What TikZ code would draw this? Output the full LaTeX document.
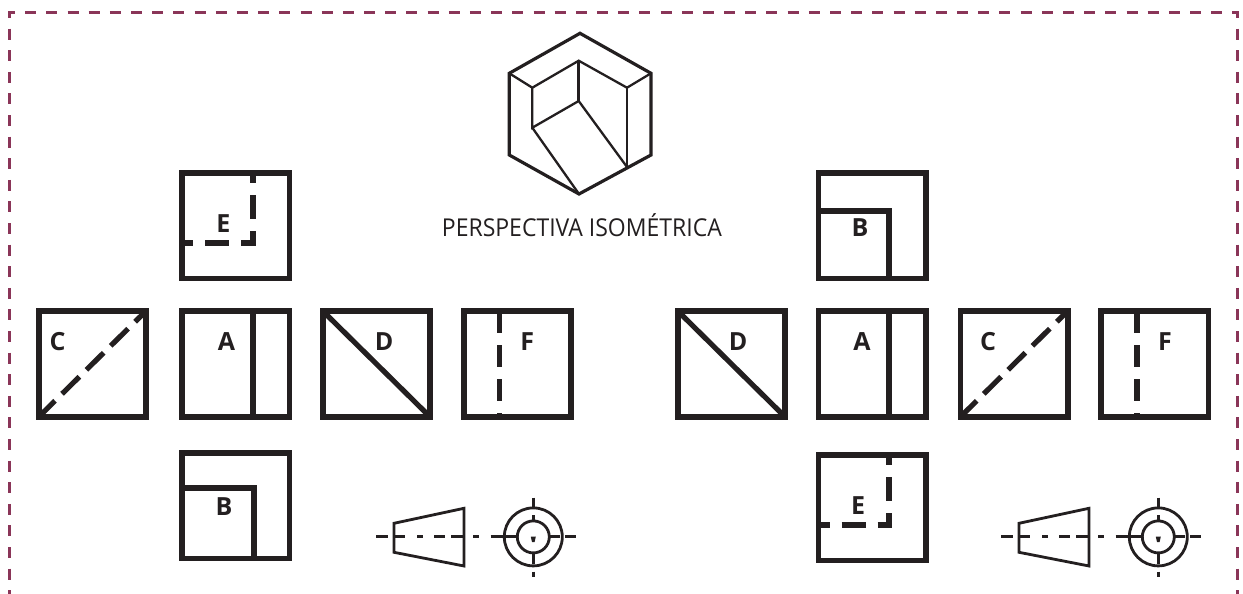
\documentclass[tikz,border=0pt]{standalone}
\usepackage{fontspec}
\setmainfont{Open Sans}
\definecolor{ink}{HTML}{231F20}
\definecolor{wine}{HTML}{8A3558}
\tikzset{
  x=1pt,y=-1pt,
  outline/.style={draw=ink,line width=5.7pt,line join=miter},
  innerline/.style={draw=ink,line width=5.2pt},
  stepdash/.style={draw=ink,line width=5.2pt,dash pattern=on 24pt off 12pt,dash phase=13pt},
  diagdash/.style={draw=ink,line width=5.2pt,dash pattern=on 24.3pt off 9.9pt,dash phase=1.5pt},
  vertdash/.style={draw=ink,line width=5.2pt,dash pattern=on 22.3pt off 11.7pt},
  letter/.style={inner sep=0pt,text=ink,font=\fontsize{25}{25}\selectfont\bfseries},
  caption/.style={inner sep=0pt,anchor=base,text=ink,font=\fontsize{24.6}{25}\selectfont},
  borderv/.style={draw=wine,line width=3pt,dash pattern=on 11pt off 10.6pt,dash phase=4.5pt},
  borderh/.style={draw=wine,line width=3pt,dash pattern=on 11pt off 10.18pt,dash phase=4pt},
  isoouter/.style={draw=ink,line width=3.2pt,line join=miter},
  isoinner/.style={draw=ink,line width=2.3pt},
  conepart/.style={draw=ink,line width=2.8pt},
  axispart/.style={draw=ink,line width=2.9pt},
}
\newcommand{\sqbox}[2]{\draw[outline] (#1,#2) rectangle ++(107.2,105.8);}
\newcommand{\cone}{%
  \draw[conepart,line join=miter] (394,523.3) -- (464,508.3) -- (464,566) -- (394,552.3) -- cycle;
  \draw[axispart] (376,536.9) -- (388,536.9);
  \draw[axispart] (394,536.9) -- (404.5,536.9);
  \draw[axispart] (417.3,536.9) -- (422.7,536.9);
  \draw[axispart] (434,536.9) -- (445,536.9);
  \draw[axispart] (451,536.9) -- (464,536.9);
  \draw[axispart] (473.3,536.9) -- (479.3,536.9);
  \draw[axispart] (490.7,536.9) -- (517.3,536.9);
  \draw[axispart] (549.3,536.9) -- (560,536.9);
  \draw[axispart] (565,536.9) -- (576,536.9);
  \draw[axispart] (533.3,497.7) -- (533.3,509.3);
  \draw[axispart] (533.3,515) -- (533.3,520.7);
  \draw[axispart] (533.3,552.7) -- (533.3,564.3);
  \draw[axispart] (533.3,571.7) -- (533.3,576.7);
  \fill[ink] (530.8,536.7) -- (535.8,536.7) -- (534.6,542) -- (532,542) -- cycle;
  \draw[conepart] (533.3,536.9) circle[radius=29];
  \draw[conepart] (533.3,536.9) circle[radius=16];
}
\begin{document}
\begin{tikzpicture}
\useasboundingbox (0,0) rectangle (1243,594);
% frame
\draw[borderh] (8,13) -- (1238.8,13);
\draw[borderv] (9.5,11.5) -- (9.5,594);
\draw[borderv] (1237.3,11.5) -- (1237.3,594);
% isometric view
\draw[isoouter] (580,33.3) -- (651,73.3) -- (651,155) -- (579,194) -- (509.3,155) -- (509.3,73.3) -- cycle;
\draw[isoinner] (509.3,73.3) -- (532.3,87.7) -- (578.7,60.7) -- (627,87.7) -- (651,73.3);
\draw[draw=ink,line width=3.4pt] (578.7,60.7) -- (578.7,101);
\draw[isoinner] (532.3,87.7) -- (532.3,127.7) -- (578.7,101) -- (627,167);
\draw[isoinner] (627,87.7) -- (627,167);
\draw[isoinner] (532.3,127.7) -- (579,194);
\node[caption] (iso) at (581.9,236.7) {\scalebox{0.935}[1]{PERSPECTIVA ISOMÉTRICA}};
% left group
\sqbox{182.2}{172.7}
\draw[stepdash] (182.2,243) -- (253,243) -- (253,172.7);
\node[letter] (eL) at (223.3,223.5) {E};
\sqbox{38.8}{311}
\draw[diagdash] (38.8,416.8) -- (146,311);
\node[letter] (cL) at (57.5,341.7) {C};
\sqbox{182.2}{311}
\draw[innerline] (253,311) -- (253,416.8);
\node[letter] (aL) at (226.5,341.7) {A};
\sqbox{322.8}{311}
\draw[innerline] (322.8,311) -- (430,416.8);
\node[letter] (dL) at (384,341.7) {D};
\sqbox{463.8}{311}
\draw[vertdash] (499.7,311) -- (499.7,416.8);
\node[letter] (fL) at (527.3,341.7) {F};
\sqbox{182.2}{452.7}
\draw[innerline,line join=miter] (182.2,488) -- (254,488) -- (254,558.5);
\node[letter] (bL) at (224,507) {B};
% right group
\sqbox{818.5}{172.7}
\draw[innerline,line join=miter] (818.5,211) -- (889,211) -- (889,278.5);
\node[letter] (bR) at (860,228) {B};
\sqbox{677.8}{311}
\draw[innerline] (677.8,311) -- (785,416.8);
\node[letter] (dR) at (738,341.7) {D};
\sqbox{818.5}{311}
\draw[innerline] (889,311) -- (889,416.8);
\node[letter] (aR) at (862,341.7) {A};
\sqbox{960.5}{311}
\draw[diagdash] (960.5,416.8) -- (1067.7,311);
\node[letter] (cR) at (988,341.7) {C};
\sqbox{1101.2}{311}
\draw[vertdash] (1137,311) -- (1137,416.8);
\node[letter] (fR) at (1165,341.7) {F};
\sqbox{818.5}{454.7}
\draw[stepdash] (818.5,525) -- (889,525) -- (889,454.7);
\node[letter] (eR) at (858,506) {E};
% projection symbols
\cone
\begin{scope}[shift={(625pt,0pt)}]
\cone
\end{scope}
\end{tikzpicture}
\end{document}
